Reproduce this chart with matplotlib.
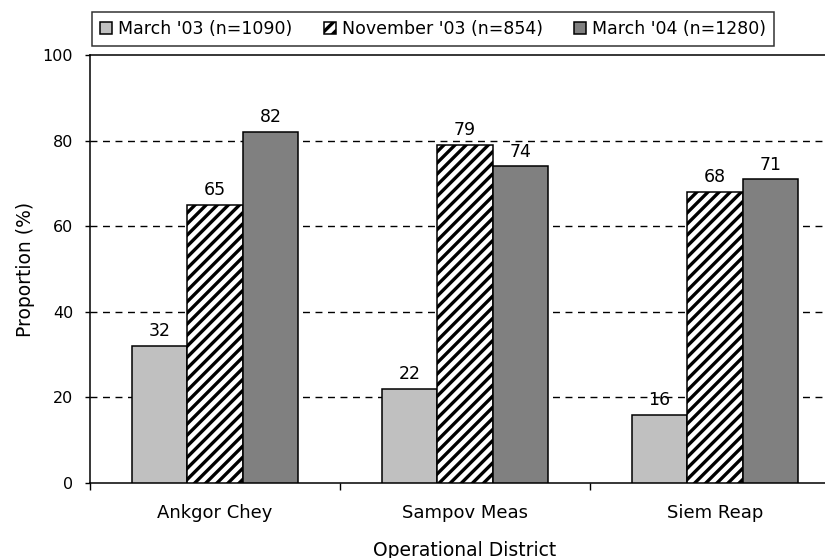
##### Import - Librerie ####
import numpy as np
import matplotlib
matplotlib.use("Agg")
from matplotlib import pyplot as plt

#==========================================================================

##### Dati #####
distretti = ["Ankgor Chey", "Sampov Meas", "Siem Reap"]
serie_nomi = ["March '03 (n=1090)", "November '03 (n=854)", "March '04 (n=1280)"]
marzo_03 = [32, 22, 16]
novembre_03 = [65, 79, 68]
marzo_04 = [82, 74, 71]
tick_y = [0, 20, 40, 60, 80, 100]

##### Stile #####
colori = ["#c0c0c0", "white", "#808080"]
tratteggi = [None, "///", None]
LARGHEZZA_BARRA = 0.222
W, H = 825, 558   # dimensione figura in pixel

plt.rcParams["font.family"] = "DejaVu Sans"
plt.rcParams["hatch.linewidth"] = 2.4

#==========================================================================

fig = plt.figure(figsize=(W / 100, H / 100), dpi=100)
# area del grafico: sinistra 90px, alto 55px, asse x a 483px; a destra esce dal bordo
ax = fig.add_axes([90 / W, 1 - 483 / H, 750 / W, 428 / H])

x = np.arange(len(distretti))
valori = [marzo_03, novembre_03, marzo_04]
for i, serie in enumerate(valori):
    pos = x + (i - 1) * LARGHEZZA_BARRA
    barre = ax.bar(pos, serie, width=LARGHEZZA_BARRA, color=colori[i],
                   edgecolor="black", linewidth=1.1, hatch=tratteggi[i],
                   label=serie_nomi[i], zorder=3)
    for b, v in zip(barre, serie):
        ax.annotate(str(v), (b.get_x() + b.get_width() / 2, v),
                    xytext=(0, 4), textcoords="offset points",
                    ha="center", va="bottom", fontsize=12.5, zorder=4)

# griglia tratteggiata
for t in tick_y[1:-1]:
    ax.axhline(t, color="black", linewidth=1.0, linestyle=(0, (5, 4)), zorder=1)

ax.set_ylim(0, 100)
ax.set_xlim(-0.5, 2.5)
ax.set_yticks(tick_y)
ax.tick_params(axis="y", direction="out", length=3.6, width=1.0, pad=8.5, labelsize=11.5)

# etichette categorie senza tacca, tacche sui confini
ax.set_xticks(x)
ax.set_xticklabels(distretti, fontsize=13)
ax.tick_params(axis="x", which="major", length=0, pad=15)
ax.set_xticks([-0.5, 0.5, 1.5, 2.5], minor=True)
ax.tick_params(axis="x", which="minor", direction="out", length=5, width=1.0)

for lato in ["left", "bottom", "top"]:
    ax.spines[lato].set_linewidth(1.1)
ax.spines["right"].set_visible(False)

ax.set_ylabel("Proportion (%)", fontsize=13.5, va="center")
ax.yaxis.set_label_coords((25 - 90) / 750, 0.5)
ax.set_xlabel("Operational District", fontsize=13.5, va="center")
ax.xaxis.set_label_coords(0.5, (483 - 550) / 428)

leg = ax.legend(loc="upper left", bbox_to_anchor=(92 / W, 1 - 12 / H),
                bbox_transform=fig.transFigure, ncol=3, fontsize=12.5,
                frameon=True, fancybox=False, borderaxespad=0, borderpad=0.45,
                handlelength=0.7, handleheight=0.7, handletextpad=0.35,
                columnspacing=1.8)
leg.get_frame().set_edgecolor("black")
leg.get_frame().set_linewidth(1.1)

fig.savefig("out.png", dpi=100)
